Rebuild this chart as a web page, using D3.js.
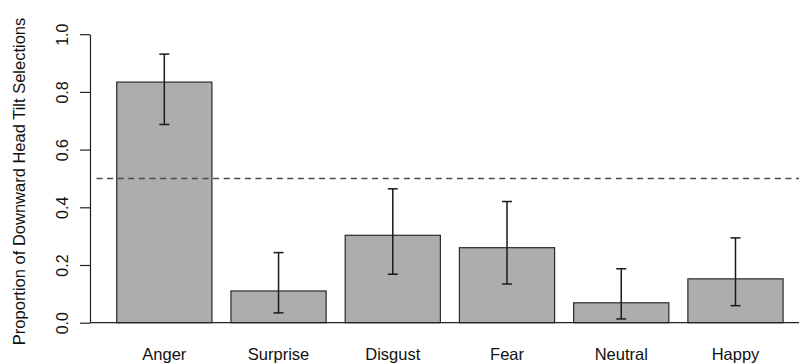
<!DOCTYPE html>
<html>
<head>
<meta charset="utf-8">
<script src="https://cdn.jsdelivr.net/npm/d3@7/dist/d3.min.js"></script>
<style>
  html, body { margin: 0; padding: 0; background: #fff; }
  svg { display: block; }
  text { font-family: "Liberation Sans", Arial, Helvetica, sans-serif; fill: #111; }
</style>
</head>
<body>
<svg id="chart" width="799" height="364"></svg>
<script>
// Emotion categories and the proportion of downward head tilt selections
const categories = ["Anger", "Surprise", "Disgust", "Fear", "Neutral", "Happy"];
const proportions = [0.834, 0.110, 0.303, 0.260, 0.069, 0.152];
// 95% confidence interval bounds
const ciLower = [0.687, 0.034, 0.168, 0.134, 0.013, 0.059];
const ciUpper = [0.931, 0.243, 0.464, 0.420, 0.187, 0.294];
// Axis ticks and chance level
const yTickValues = [0, 0.2, 0.4, 0.6, 0.8, 1.0];
const yTickLabels = ["0.0", "0.2", "0.4", "0.6", "0.8", "1.0"];
const chanceLevel = 0.5;
const yTitle = "Proportion of Downward Head Tilt Selections";

const svg = d3.select("#chart");
const W = 799, H = 364;

const y = d3.scaleLinear().domain([0, 1]).range([322.7, 34.2]);
const x = d3.scaleBand()
  .domain(categories)
  .range([107.2, 792.6])
  .paddingInner(1 / 6)
  .paddingOuter(1 / 12);

const rows = categories.map((c, i) => ({
  cat: c, value: proportions[i], lo: ciLower[i], hi: ciUpper[i]
}));

// Bars
svg.append("g").selectAll("rect")
  .data(rows)
  .join("rect")
  .attr("x", d => x(d.cat))
  .attr("y", d => y(d.value))
  .attr("width", x.bandwidth())
  .attr("height", d => y(0) - y(d.value))
  .attr("fill", "#adadad")
  .attr("stroke", "#2a2a2a")
  .attr("stroke-width", 1.2);

// Baseline at zero
svg.append("line")
  .attr("x1", 90).attr("x2", W)
  .attr("y1", y(0)).attr("y2", y(0))
  .attr("stroke", "#222")
  .attr("stroke-width", 1.3);

// Chance-level reference line
svg.append("line")
  .attr("x1", 96.5).attr("x2", W)
  .attr("y1", y(chanceLevel)).attr("y2", y(chanceLevel))
  .attr("stroke", "#4a4a4a")
  .attr("stroke-width", 1.5)
  .attr("stroke-dasharray", "6,4.6");

// Error bars
const cap = 5;
const eb = svg.append("g")
  .attr("stroke", "#1a1a1a")
  .attr("stroke-width", 1.5)
  .attr("fill", "none");
rows.forEach(d => {
  const cx = x(d.cat) + x.bandwidth() / 2;
  eb.append("line").attr("x1", cx).attr("x2", cx).attr("y1", y(d.lo)).attr("y2", y(d.hi));
  eb.append("line").attr("x1", cx - cap).attr("x2", cx + cap).attr("y1", y(d.hi)).attr("y2", y(d.hi));
  eb.append("line").attr("x1", cx - cap).attr("x2", cx + cap).attr("y1", y(d.lo)).attr("y2", y(d.lo));
});

// Y axis with rotated tick labels
const yAxis = d3.axisLeft(y)
  .tickValues(yTickValues)
  .tickFormat((d, i) => yTickLabels[i])
  .tickSize(10)
  .tickSizeOuter(0);
const gy = svg.append("g")
  .attr("transform", "translate(90,0)")
  .call(yAxis);
gy.select(".domain").attr("stroke", "#222").attr("stroke-width", 1.2);
gy.selectAll(".tick line").attr("stroke", "#222").attr("stroke-width", 1.2);
gy.selectAll(".tick text")
  .attr("transform", "rotate(-90)")
  .attr("x", 0)
  .attr("y", -22)
  .attr("dy", 0)
  .attr("text-anchor", "middle")
  .style("font-size", "16px")
  .style("font-family", "'Liberation Sans', Arial, sans-serif")
  .attr("fill", "#111");

// Category labels
svg.append("g").selectAll("text")
  .data(categories)
  .join("text")
  .attr("x", d => x(d) + x.bandwidth() / 2)
  .attr("y", 360)
  .attr("text-anchor", "middle")
  .style("font-size", "16.5px")
  .text(d => d);

// Y axis title
svg.append("text")
  .attr("transform", `translate(25,${(y(0) + y(1)) / 2 + 3}) rotate(-90)`)
  .attr("text-anchor", "middle")
  .style("font-size", "16.5px")
  .text(yTitle);
</script>
</body>
</html>
